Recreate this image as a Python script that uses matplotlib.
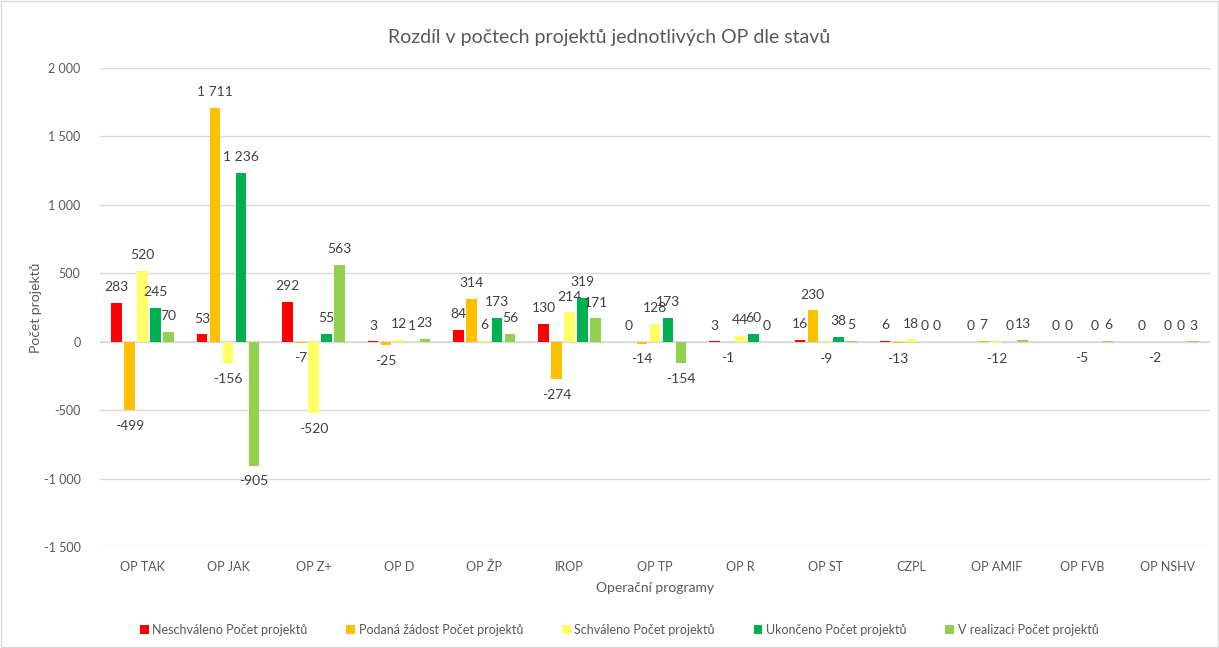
import matplotlib
matplotlib.use("Agg")
import matplotlib.pyplot as plt
from matplotlib.ticker import FuncFormatter, MultipleLocator
import numpy as np

plt.rcParams['font.family'] = ['Lato', 'DejaVu Sans']

categories = ["OP TAK", "OP JAK", "OP Z+", "OP D", "OP ŽP", "IROP", "OP TP",
              "OP R", "OP ST", "CZPL", "OP AMIF", "OP FVB", "OP NSHV"]
series_names = ["Neschváleno Počet projektů", "Podaná žádost Počet projektů",
                "Schváleno Počet projektů", "Ukončeno Počet projektů",
                "V realizaci Počet projektů"]
neschvaleno = [283, 53, 292, 3, 84, 130, 0, 3, 16, 6, 0, 0, 0]
podana = [-499, 1711, -7, -25, 314, -274, -14, -1, 230, -13, 7, 0, -2]
schvaleno = [520, -156, -520, 12, 6, 214, 128, 44, -9, 18, -12, -5, 0]
ukonceno = [245, 1236, 55, 1, 173, 319, 173, 60, 38, 0, 0, 0, 0]
v_realizaci = [70, -905, 563, 23, 56, 171, -154, 0, 5, 0, 13, 6, 3]
series = [neschvaleno, podana, schvaleno, ukonceno, v_realizaci]
colors = ["#FF0000", "#FFC000", "#FFFF66", "#00B050", "#92D050"]

fig = plt.figure(figsize=(12.19, 6.48), dpi=100)
ax = fig.add_axes([100/1219, 101/648, 1110/1219, 479/648])

x = np.arange(len(categories))
step = 0.152
width = 0.123
txt = "#595959"


def fmt(v):
    s = f"{abs(int(v)):,}".replace(",", " ")
    return ("-" if v < 0 else "") + s


for i, (vals, c, name) in enumerate(zip(series, colors, series_names)):
    pos = x + (i - 2) * step
    ax.bar(pos, vals, width=width, color=c, label=name, zorder=3)
    for xi, v in zip(pos, vals):
        if v >= 0:
            ax.annotate(fmt(v), (xi, v), xytext=(0, 7), textcoords="offset points",
                        ha="center", va="bottom", fontsize=10, color="#404040")
        else:
            ax.annotate(fmt(v), (xi, v), xytext=(0, -7), textcoords="offset points",
                        ha="center", va="top", fontsize=10, color="#404040")

ax.set_ylim(-1500, 2000)
ax.set_xlim(-0.5, len(categories) - 0.5)
ax.yaxis.set_major_locator(MultipleLocator(500))
ax.yaxis.set_major_formatter(FuncFormatter(lambda v, p: fmt(v)))
ax.grid(axis="y", color="#D9D9D9", linewidth=1, zorder=0)
ax.axhline(0, color="#D9D9D9", linewidth=1.2, zorder=2)
for s in ax.spines.values():
    s.set_visible(False)
ax.tick_params(axis="both", length=0, colors=txt, labelsize=9)
ax.tick_params(axis="y", pad=14)
ax.tick_params(axis="x", pad=10)
ax.set_xticks(x)
ax.set_xticklabels(categories)

ax.set_ylabel("Počet projektů", fontsize=10, color=txt, labelpad=1)
ax.set_xlabel("Operační programy", fontsize=10, color=txt, labelpad=6)
fig.text(0.5, 1 - 38/648, "Rozdíl v počtech projektů jednotlivých OP dle stavů",
         ha="center", va="center", fontsize=14, color=txt)

fig.legend(loc="center", bbox_to_anchor=(0.508, 1 - 630/648), ncol=5, frameon=False,
           fontsize=9, handlelength=0.7, handleheight=0.7, handletextpad=0.3,
           columnspacing=3.1, labelcolor=txt)

fig.patches.append(plt.Rectangle((0.001, 0.001), 0.998, 0.998, transform=fig.transFigure,
                                 fill=False, edgecolor="#D9D9D9", linewidth=1))
fig.savefig("out.png", dpi=100, facecolor="white")
